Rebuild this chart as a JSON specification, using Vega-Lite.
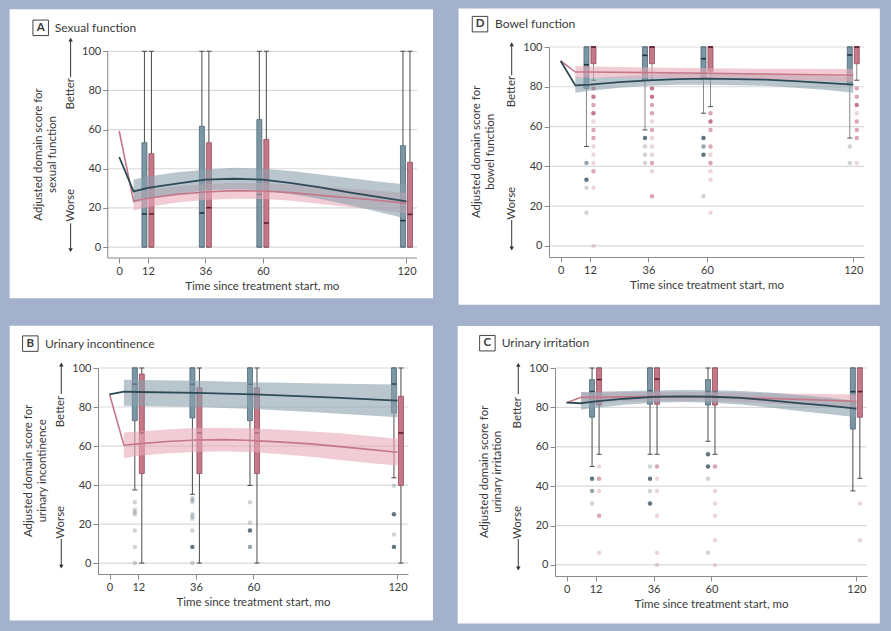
{
"$schema": "https://vega.github.io/schema/vega-lite/v6.json",
"background": "#a3b1cc",
"padding": {"left": 9, "top": 8, "right": 13, "bottom": 8},
"config": {
  "view": {"stroke": null},
  "font": "Lato",
  "axis": {"labelFont": "Lato", "titleFont": "Lato", "labelFontSize": 11, "titleFontSize": 11.5, "titleFontWeight": "normal", "labelColor": "#3a3a3a", "titleColor": "#3a3a3a", "domainColor": "#8a8a8a", "tickColor": "#8a8a8a", "tickSize": 5, "grid": false},
  "text": {"font": "Lato", "color": "#3a3a3a"}
},
"datasets": {
"box": [
{"p":"A","g":"b","t":12,"lo":0,"q1":0,"med":16.9,"q3":53.3,"hi":100},
{"p":"A","g":"p","t":12,"lo":0,"q1":0,"med":16.9,"q3":47.7,"hi":100},
{"p":"A","g":"b","t":36,"lo":0,"q1":0,"med":17.4,"q3":61.7,"hi":100},
{"p":"A","g":"p","t":36,"lo":0,"q1":0,"med":20.1,"q3":53.3,"hi":100},
{"p":"A","g":"b","t":60,"lo":0,"q1":0,"med":26.9,"q3":65.1,"hi":100},
{"p":"A","g":"p","t":60,"lo":0,"q1":0,"med":12.3,"q3":55,"hi":100},
{"p":"A","g":"b","t":120,"lo":0,"q1":0,"med":13.5,"q3":51.8,"hi":100},
{"p":"A","g":"p","t":120,"lo":0,"q1":0,"med":16.7,"q3":43.3,"hi":100},
{"p":"D","g":"b","t":12,"lo":50,"q1":79.1,"med":91.1,"q3":100,"hi":100},
{"p":"D","g":"p","t":12,"lo":83.3,"q1":91.6,"med":100,"q3":100,"hi":100},
{"p":"D","g":"b","t":36,"lo":58.3,"q1":83.3,"med":95.8,"q3":100,"hi":100},
{"p":"D","g":"p","t":36,"lo":83.3,"q1":91.6,"med":100,"q3":100,"hi":100},
{"p":"D","g":"b","t":60,"lo":66.7,"q1":84,"med":94.1,"q3":100,"hi":100},
{"p":"D","g":"p","t":60,"lo":70,"q1":87.8,"med":100,"q3":100,"hi":100},
{"p":"D","g":"b","t":120,"lo":54.2,"q1":81.1,"med":96,"q3":100,"hi":100},
{"p":"D","g":"p","t":120,"lo":83.3,"q1":91.6,"med":100,"q3":100,"hi":100},
{"p":"B","g":"b","t":12,"lo":37.5,"q1":73,"med":91.7,"q3":100,"hi":100},
{"p":"B","g":"p","t":12,"lo":0,"q1":45.9,"med":66.7,"q3":96.9,"hi":100},
{"p":"B","g":"b","t":36,"lo":35.3,"q1":74.4,"med":91.7,"q3":100,"hi":100},
{"p":"B","g":"p","t":36,"lo":0,"q1":45.9,"med":66.7,"q3":89.8,"hi":100},
{"p":"B","g":"b","t":60,"lo":39.8,"q1":73,"med":91.7,"q3":100,"hi":100},
{"p":"B","g":"p","t":60,"lo":0,"q1":45.9,"med":66.7,"q3":89.8,"hi":100},
{"p":"B","g":"b","t":120,"lo":43.7,"q1":77,"med":91.7,"q3":100,"hi":100},
{"p":"B","g":"p","t":120,"lo":0,"q1":39.8,"med":66.7,"q3":85.5,"hi":100},
{"p":"C","g":"b","t":12,"lo":50,"q1":75,"med":88,"q3":94.1,"hi":100},
{"p":"C","g":"p","t":12,"lo":56.2,"q1":81.2,"med":94.1,"q3":100,"hi":100},
{"p":"C","g":"b","t":36,"lo":56.2,"q1":81.6,"med":88.3,"q3":100,"hi":100},
{"p":"C","g":"p","t":36,"lo":56.2,"q1":81.6,"med":94.4,"q3":100,"hi":100},
{"p":"C","g":"b","t":60,"lo":62.8,"q1":81.2,"med":88,"q3":94.1,"hi":100},
{"p":"C","g":"p","t":60,"lo":56.2,"q1":81.2,"med":88,"q3":100,"hi":100},
{"p":"C","g":"b","t":120,"lo":37.6,"q1":69,"med":88,"q3":100,"hi":100},
{"p":"C","g":"p","t":120,"lo":44,"q1":75,"med":88,"q3":100,"hi":100}
],
"out": [
{"p":"D","g":"p","t":12,"y":79.2,"n":3},{"p":"D","g":"p","t":12,"y":75,"n":3},{"p":"D","g":"p","t":12,"y":70.8,"n":2},{"p":"D","g":"p","t":12,"y":66.7,"n":3},{"p":"D","g":"p","t":12,"y":62.5,"n":1},{"p":"D","g":"p","t":12,"y":58.3,"n":2},{"p":"D","g":"p","t":12,"y":54.2,"n":2},{"p":"D","g":"p","t":12,"y":50,"n":1},{"p":"D","g":"p","t":12,"y":45.8,"n":1},{"p":"D","g":"p","t":12,"y":41.7,"n":1},{"p":"D","g":"p","t":12,"y":37.5,"n":2},{"p":"D","g":"p","t":12,"y":29.2,"n":1},{"p":"D","g":"p","t":12,"y":0,"n":1},
{"p":"D","g":"b","t":12,"y":41.7,"n":2},{"p":"D","g":"b","t":12,"y":33.3,"n":3},{"p":"D","g":"b","t":12,"y":29.2,"n":1},{"p":"D","g":"b","t":12,"y":16.7,"n":1},
{"p":"D","g":"b","t":36,"y":54.2,"n":3},{"p":"D","g":"b","t":36,"y":50,"n":1},{"p":"D","g":"b","t":36,"y":45.8,"n":1},{"p":"D","g":"b","t":36,"y":41.7,"n":1},
{"p":"D","g":"p","t":36,"y":79.2,"n":3},{"p":"D","g":"p","t":36,"y":75,"n":3},{"p":"D","g":"p","t":36,"y":70.8,"n":2},{"p":"D","g":"p","t":36,"y":66.7,"n":2},{"p":"D","g":"p","t":36,"y":62.5,"n":1},{"p":"D","g":"p","t":36,"y":58.3,"n":2},{"p":"D","g":"p","t":36,"y":54.2,"n":1},{"p":"D","g":"p","t":36,"y":50,"n":1},{"p":"D","g":"p","t":36,"y":45.8,"n":1},{"p":"D","g":"p","t":36,"y":41.7,"n":2},{"p":"D","g":"p","t":36,"y":37.5,"n":1},{"p":"D","g":"p","t":36,"y":25,"n":2},
{"p":"D","g":"b","t":60,"y":54.2,"n":3},{"p":"D","g":"b","t":60,"y":50,"n":2},{"p":"D","g":"b","t":60,"y":45.8,"n":3},{"p":"D","g":"b","t":60,"y":25,"n":1},
{"p":"D","g":"p","t":60,"y":66.7,"n":2},{"p":"D","g":"p","t":60,"y":62.5,"n":3},{"p":"D","g":"p","t":60,"y":58.3,"n":2},{"p":"D","g":"p","t":60,"y":50,"n":2},{"p":"D","g":"p","t":60,"y":45.8,"n":1},{"p":"D","g":"p","t":60,"y":41.7,"n":2},{"p":"D","g":"p","t":60,"y":37.5,"n":1},{"p":"D","g":"p","t":60,"y":33.3,"n":1},{"p":"D","g":"p","t":60,"y":16.7,"n":1},
{"p":"D","g":"b","t":120,"y":50,"n":1},{"p":"D","g":"b","t":120,"y":41.7,"n":1},
{"p":"D","g":"p","t":120,"y":79.2,"n":2},{"p":"D","g":"p","t":120,"y":75,"n":2},{"p":"D","g":"p","t":120,"y":70.8,"n":3},{"p":"D","g":"p","t":120,"y":66.7,"n":1},{"p":"D","g":"p","t":120,"y":62.5,"n":2},{"p":"D","g":"p","t":120,"y":58.3,"n":2},{"p":"D","g":"p","t":120,"y":54.2,"n":2},{"p":"D","g":"p","t":120,"y":41.7,"n":1},
{"p":"B","g":"b","t":12,"y":31.2,"n":1},{"p":"B","g":"b","t":12,"y":27.3,"n":1},{"p":"B","g":"b","t":12,"y":26.1,"n":1},{"p":"B","g":"b","t":12,"y":25,"n":1},{"p":"B","g":"b","t":12,"y":16.7,"n":1},{"p":"B","g":"b","t":12,"y":8.3,"n":1},{"p":"B","g":"b","t":12,"y":0,"n":1},
{"p":"B","g":"b","t":36,"y":33.3,"n":1},{"p":"B","g":"b","t":36,"y":32.3,"n":1},{"p":"B","g":"b","t":36,"y":31.2,"n":1},{"p":"B","g":"b","t":36,"y":25,"n":1},{"p":"B","g":"b","t":36,"y":23.9,"n":1},{"p":"B","g":"b","t":36,"y":22.7,"n":1},{"p":"B","g":"b","t":36,"y":16.7,"n":1},{"p":"B","g":"b","t":36,"y":8.3,"n":3},{"p":"B","g":"b","t":36,"y":0,"n":1},
{"p":"B","g":"b","t":60,"y":31.2,"n":1},{"p":"B","g":"b","t":60,"y":20.8,"n":1},{"p":"B","g":"b","t":60,"y":16.7,"n":3},{"p":"B","g":"b","t":60,"y":8.3,"n":2},
{"p":"B","g":"b","t":120,"y":39.6,"n":1},{"p":"B","g":"b","t":120,"y":25,"n":3},{"p":"B","g":"b","t":120,"y":14.6,"n":1},{"p":"B","g":"b","t":120,"y":8.3,"n":3},
{"p":"C","g":"b","t":12,"y":43.8,"n":3},{"p":"C","g":"b","t":12,"y":37.5,"n":2},{"p":"C","g":"b","t":12,"y":31.2,"n":1},
{"p":"C","g":"p","t":12,"y":50,"n":1},{"p":"C","g":"p","t":12,"y":43.8,"n":2},{"p":"C","g":"p","t":12,"y":37.5,"n":1},{"p":"C","g":"p","t":12,"y":25,"n":2},{"p":"C","g":"p","t":12,"y":6.2,"n":1},
{"p":"C","g":"b","t":36,"y":50,"n":1},{"p":"C","g":"b","t":36,"y":43.8,"n":3},{"p":"C","g":"b","t":36,"y":37.5,"n":1},{"p":"C","g":"b","t":36,"y":31.2,"n":3},
{"p":"C","g":"p","t":36,"y":50,"n":2},{"p":"C","g":"p","t":36,"y":43.8,"n":1},{"p":"C","g":"p","t":36,"y":37.5,"n":1},{"p":"C","g":"p","t":36,"y":25,"n":1},{"p":"C","g":"p","t":36,"y":6.2,"n":1},{"p":"C","g":"p","t":36,"y":0,"n":1},
{"p":"C","g":"b","t":60,"y":56.2,"n":3},{"p":"C","g":"b","t":60,"y":50,"n":3},{"p":"C","g":"b","t":60,"y":43.8,"n":1},{"p":"C","g":"b","t":60,"y":6.2,"n":1},
{"p":"C","g":"p","t":60,"y":50,"n":2},{"p":"C","g":"p","t":60,"y":37.5,"n":1},{"p":"C","g":"p","t":60,"y":31.2,"n":1},{"p":"C","g":"p","t":60,"y":25,"n":1},{"p":"C","g":"p","t":60,"y":12.5,"n":1},{"p":"C","g":"p","t":60,"y":0,"n":1},
{"p":"C","g":"p","t":120,"y":31.2,"n":1},{"p":"C","g":"p","t":120,"y":12.5,"n":1}
],
"fit": [
{"p":"A","g":"b","t":0,"y":46},{"p":"A","g":"b","t":6,"y":28.4,"lo":22.5,"hi":34.5},{"p":"A","g":"b","t":12,"y":30.2,"lo":24.5,"hi":36},{"p":"A","g":"b","t":24,"y":32.4,"lo":27,"hi":38.2},{"p":"A","g":"b","t":36,"y":34.4,"lo":29,"hi":39.5},{"p":"A","g":"b","t":48,"y":34.9,"lo":29.5,"hi":40.5},{"p":"A","g":"b","t":60,"y":34.4,"lo":29,"hi":40},{"p":"A","g":"b","t":72,"y":32.7,"lo":27,"hi":38.8},{"p":"A","g":"b","t":84,"y":30.5,"lo":24.5,"hi":37},{"p":"A","g":"b","t":96,"y":27.9,"lo":21.5,"hi":35.3},{"p":"A","g":"b","t":108,"y":25.6,"lo":18,"hi":33.5},{"p":"A","g":"b","t":120,"y":23.3,"lo":14.5,"hi":32},
{"p":"A","g":"p","t":0,"y":59.3},{"p":"A","g":"p","t":6,"y":23.5,"lo":18.7,"hi":28.3},{"p":"A","g":"p","t":12,"y":24.9,"lo":20.5,"hi":29.3},{"p":"A","g":"p","t":24,"y":26.9,"lo":22.7,"hi":31.1},{"p":"A","g":"p","t":36,"y":28.1,"lo":24,"hi":32.2},{"p":"A","g":"p","t":48,"y":28.8,"lo":24.7,"hi":32.9},{"p":"A","g":"p","t":60,"y":28.6,"lo":24.5,"hi":32.7},{"p":"A","g":"p","t":72,"y":27.8,"lo":23.6,"hi":32},{"p":"A","g":"p","t":84,"y":26.4,"lo":22,"hi":30.8},{"p":"A","g":"p","t":96,"y":25.2,"lo":20.5,"hi":29.9},{"p":"A","g":"p","t":108,"y":23.9,"lo":19,"hi":28.8},{"p":"A","g":"p","t":120,"y":22.3,"lo":17,"hi":27.6},
{"p":"D","g":"b","t":0,"y":93},{"p":"D","g":"b","t":6,"y":80.7,"lo":77,"hi":85},{"p":"D","g":"b","t":12,"y":81.1,"lo":78,"hi":84.5},{"p":"D","g":"b","t":24,"y":82.3,"lo":79.5,"hi":85.2},{"p":"D","g":"b","t":36,"y":83.2,"lo":80.5,"hi":86},{"p":"D","g":"b","t":48,"y":83.8,"lo":81,"hi":86.6},{"p":"D","g":"b","t":60,"y":84.1,"lo":81,"hi":87},{"p":"D","g":"b","t":84,"y":83.6,"lo":80.5,"hi":86.5},{"p":"D","g":"b","t":96,"y":82.8,"lo":79.5,"hi":86},{"p":"D","g":"b","t":108,"y":82,"lo":78.5,"hi":85.5},{"p":"D","g":"b","t":120,"y":81.1,"lo":77,"hi":85},
{"p":"D","g":"p","t":0,"y":93},{"p":"D","g":"p","t":6,"y":87.4,"lo":84.5,"hi":90.5},{"p":"D","g":"p","t":12,"y":87.4,"lo":84.7,"hi":90.2},{"p":"D","g":"p","t":36,"y":87.1,"lo":84.6,"hi":89.7},{"p":"D","g":"p","t":60,"y":86.8,"lo":84.4,"hi":89.3},{"p":"D","g":"p","t":84,"y":86.4,"lo":83.8,"hi":89.1},{"p":"D","g":"p","t":120,"y":85.8,"lo":82.5,"hi":89},
{"p":"B","g":"b","t":0,"y":86.5},{"p":"B","g":"b","t":6,"y":87.9,"lo":80.7,"hi":94},{"p":"B","g":"b","t":12,"y":87.7,"lo":80.5,"hi":93.9},{"p":"B","g":"b","t":36,"y":87.2,"lo":80,"hi":93.5},{"p":"B","g":"b","t":60,"y":86.5,"lo":79,"hi":92.7},{"p":"B","g":"b","t":84,"y":85.3,"lo":77.5,"hi":92.2},{"p":"B","g":"b","t":96,"y":84.7,"lo":76.5,"hi":91.9},{"p":"B","g":"b","t":120,"y":83.3,"lo":74.7,"hi":91.5},
{"p":"B","g":"p","t":0,"y":86.5},{"p":"B","g":"p","t":6,"y":60.4,"lo":53.8,"hi":67},{"p":"B","g":"p","t":12,"y":61.1,"lo":55,"hi":67.5},{"p":"B","g":"p","t":24,"y":62.3,"lo":56.3,"hi":68.5},{"p":"B","g":"p","t":36,"y":63.1,"lo":57,"hi":69.3},{"p":"B","g":"p","t":48,"y":63.3,"lo":57.3,"hi":69.3},{"p":"B","g":"p","t":60,"y":62.8,"lo":56.8,"hi":69},{"p":"B","g":"p","t":72,"y":62,"lo":55.8,"hi":68.4},{"p":"B","g":"p","t":84,"y":61.1,"lo":54.5,"hi":67.5},{"p":"B","g":"p","t":96,"y":59.7,"lo":52.8,"hi":66.5},{"p":"B","g":"p","t":108,"y":58.3,"lo":51.3,"hi":65.2},{"p":"B","g":"p","t":120,"y":56.8,"lo":50,"hi":63.7},
{"p":"C","g":"b","t":0,"y":82.4},{"p":"C","g":"b","t":6,"y":82.1,"lo":78.8,"hi":87.8},{"p":"C","g":"b","t":12,"y":83.1,"lo":79.8,"hi":87.9},{"p":"C","g":"b","t":24,"y":84.4,"lo":81.3,"hi":88.3},{"p":"C","g":"b","t":36,"y":85.3,"lo":82.4,"hi":88.6},{"p":"C","g":"b","t":48,"y":85.6,"lo":82.7,"hi":88.8},{"p":"C","g":"b","t":60,"y":85.4,"lo":82.3,"hi":88.7},{"p":"C","g":"b","t":72,"y":84.8,"lo":81.5,"hi":88.3},{"p":"C","g":"b","t":84,"y":83.6,"lo":80,"hi":87.5},{"p":"C","g":"b","t":96,"y":82.2,"lo":78.2,"hi":86.3},{"p":"C","g":"b","t":108,"y":80.9,"lo":76.6,"hi":85},{"p":"C","g":"b","t":120,"y":79.4,"lo":75,"hi":83.3},
{"p":"C","g":"p","t":0,"y":82.4},{"p":"C","g":"p","t":6,"y":85.1,"lo":82.5,"hi":87.7},{"p":"C","g":"p","t":12,"y":85.1,"lo":82.7,"hi":87.6},{"p":"C","g":"p","t":36,"y":85.6,"lo":83.3,"hi":87.9},{"p":"C","g":"p","t":60,"y":85.4,"lo":83.1,"hi":87.8},{"p":"C","g":"p","t":84,"y":84.6,"lo":82,"hi":87.2},{"p":"C","g":"p","t":120,"y":83.1,"lo":79.8,"hi":86.5}
]
},
"spacing": 20,
"vconcat": [
{"spacing": 24, "hconcat": [
{"width": 319, "height": 211, "data": {"values": [{}]}, "layer": [
 {"mark": {"type": "rect", "color": "white"}, "encoding": {
   "x": {"datum": -45.8, "type": "quantitative", "scale": {"domain": [-8.86, 124.4], "nice": false, "zero": false, "padding": 0}, "axis": {"values": [0, 12, 36, 60, 120], "title": null, "domain": false, "labelPadding": 2, "zindex": 1}},
   "x2": {"datum": 131.1},
   "y": {"datum": -26.2, "type": "quantitative", "scale": {"domain": [-5.6, 102.2], "nice": false, "zero": false, "padding": 0}, "axis": {"values": [0, 20, 40, 60, 80, 100], "title": null, "domain": false, "labelPadding": 2, "offset": -9.7, "zindex": 1}},
   "y2": {"datum": 121.5}}},
 {"mark": {"type": "rule", "color": "#d9d9d9", "strokeWidth": 1.2}, "encoding": {"x": {"datum": -4.8}, "x2": {"datum": 124.4}, "y": {"datum": 0}}},
 {"mark": {"type": "rule", "color": "#d9d9d9", "strokeWidth": 1.2}, "encoding": {"x": {"datum": -4.8}, "x2": {"datum": 124.4}, "y": {"datum": 20}}},
 {"mark": {"type": "rule", "color": "#d9d9d9", "strokeWidth": 1.2}, "encoding": {"x": {"datum": -4.8}, "x2": {"datum": 124.4}, "y": {"datum": 40}}},
 {"mark": {"type": "rule", "color": "#d9d9d9", "strokeWidth": 1.2}, "encoding": {"x": {"datum": -4.8}, "x2": {"datum": 124.4}, "y": {"datum": 60}}},
 {"mark": {"type": "rule", "color": "#d9d9d9", "strokeWidth": 1.2}, "encoding": {"x": {"datum": -4.8}, "x2": {"datum": 124.4}, "y": {"datum": 80}}},
 {"mark": {"type": "rule", "color": "#d9d9d9", "strokeWidth": 1.2}, "encoding": {"x": {"datum": -4.8}, "x2": {"datum": 124.4}, "y": {"datum": 100}}},
 {"mark": {"type": "rule", "color": "#8a8a8a", "strokeWidth": 1}, "encoding": {"x": {"datum": -4.8}, "x2": {"datum": 124.4}, "y": {"datum": -5.6}}},
 {"mark": {"type": "rule", "color": "#8a8a8a", "strokeWidth": 1}, "encoding": {"x": {"datum": -4.8}, "y": {"datum": -5.6}, "y2": {"datum": 100}}},
 {"mark": {"type": "text", "text": "Time since treatment start, mo", "fontSize": 11.5, "align": "center", "baseline": "middle"}, "encoding": {"x": {"datum": 59.8}, "y": {"datum": -20.4}}},
 {"data": {"name": "box"}, "transform": [{"filter": "datum.p=='A'"}], "mark": {"type": "rule", "color": "#4a4a4a", "strokeWidth": 1, "xOffset": {"expr": "datum.g=='b'?-3.5:3.5"}}, "encoding": {"x": {"field": "t", "type": "quantitative"}, "y": {"field": "q3", "type": "quantitative"}, "y2": {"field": "hi"}}},
 {"data": {"name": "box"}, "transform": [{"filter": "datum.p=='A'"}], "mark": {"type": "rule", "color": "#4a4a4a", "strokeWidth": 1, "xOffset": {"expr": "datum.g=='b'?-3.5:3.5"}}, "encoding": {"x": {"field": "t", "type": "quantitative"}, "y": {"field": "lo", "type": "quantitative"}, "y2": {"field": "q1"}}},
 {"data": {"name": "box"}, "transform": [{"filter": "datum.p=='A'"}], "mark": {"type": "tick", "orient": "horizontal", "size": 5, "thickness": 1, "color": "#4a4a4a", "opacity": 1, "xOffset": {"expr": "datum.g=='b'?-3.5:3.5"}}, "encoding": {"x": {"field": "t", "type": "quantitative"}, "y": {"field": "hi", "type": "quantitative"}}},
 {"data": {"name": "box"}, "transform": [{"filter": "datum.p=='A'"}], "mark": {"type": "tick", "orient": "horizontal", "size": 5, "thickness": 1, "color": "#4a4a4a", "opacity": 1, "xOffset": {"expr": "datum.g=='b'?-3.5:3.5"}}, "encoding": {"x": {"field": "t", "type": "quantitative"}, "y": {"field": "lo", "type": "quantitative"}}},
 {"data": {"name": "box"}, "transform": [{"filter": "datum.p=='A'"}], "mark": {"type": "bar", "size": 5, "strokeWidth": 0.8, "xOffset": {"expr": "datum.g=='b'?-3.5:3.5"}}, "encoding": {"x": {"field": "t", "type": "quantitative"}, "y": {"field": "q1", "type": "quantitative"}, "y2": {"field": "q3"}, "fill": {"condition": {"test": "datum.g=='b'", "value": "#7b97a5"}, "value": "#c47888"}, "stroke": {"condition": {"test": "datum.g=='b'", "value": "#4d6875"}, "value": "#94495b"}}},
 {"data": {"name": "box"}, "transform": [{"filter": "datum.p=='A'"}], "mark": {"type": "tick", "orient": "horizontal", "size": 5, "thickness": 1.6, "opacity": 1, "xOffset": {"expr": "datum.g=='b'?-3.5:3.5"}}, "encoding": {"x": {"field": "t", "type": "quantitative"}, "y": {"field": "med", "type": "quantitative"}, "color": {"condition": {"test": "datum.g=='b'", "value": "#22343c"}, "value": "#5b1f2e"}}},
 {"data": {"name": "fit"}, "transform": [{"filter": "datum.p=='A' && datum.g=='p' && isValid(datum.lo)"}], "mark": {"type": "area", "color": "#e8aab8", "opacity": 0.6}, "encoding": {"x": {"field": "t", "type": "quantitative"}, "y": {"field": "lo", "type": "quantitative"}, "y2": {"field": "hi"}}},
 {"data": {"name": "fit"}, "transform": [{"filter": "datum.p=='A' && datum.g=='b' && isValid(datum.lo)"}], "mark": {"type": "area", "color": "#8aa0ae", "opacity": 0.6}, "encoding": {"x": {"field": "t", "type": "quantitative"}, "y": {"field": "lo", "type": "quantitative"}, "y2": {"field": "hi"}}},
 {"data": {"name": "fit"}, "transform": [{"filter": "datum.p=='A' && datum.g=='p'"}], "mark": {"type": "line", "color": "#c4788a", "strokeWidth": 1.6}, "encoding": {"x": {"field": "t", "type": "quantitative"}, "y": {"field": "y", "type": "quantitative"}}},
 {"data": {"name": "fit"}, "transform": [{"filter": "datum.p=='A' && datum.g=='b'"}], "mark": {"type": "line", "color": "#2e4a56", "strokeWidth": 1.8}, "encoding": {"x": {"field": "t", "type": "quantitative"}, "y": {"field": "y", "type": "quantitative"}}},
 {"mark": {"type": "point", "shape": "square", "size": 240, "filled": false, "stroke": "#444", "strokeWidth": 1, "opacity": 1}, "encoding": {"x": {"datum": -32.8}, "y": {"datum": 112}}},
 {"mark": {"type": "text", "text": "A", "fontWeight": "bold", "fontSize": 11.5, "align": "center", "baseline": "middle"}, "encoding": {"x": {"datum": -32.8}, "y": {"datum": 112}}},
 {"mark": {"type": "text", "text": "Sexual function", "fontSize": 12, "align": "left", "baseline": "middle"}, "encoding": {"x": {"datum": -26.9}, "y": {"datum": 112}}},
 {"mark": {"type": "text", "text": "Adjusted domain score for", "angle": 270, "fontSize": 11.5, "align": "center", "baseline": "middle"}, "encoding": {"x": {"datum": -33.6}, "y": {"datum": 47.3}}},
 {"mark": {"type": "text", "text": "sexual function", "angle": 270, "fontSize": 11.5, "align": "center", "baseline": "middle"}, "encoding": {"x": {"datum": -27.8}, "y": {"datum": 47.3}}},
 {"mark": {"type": "text", "text": "Better", "angle": 270, "fontSize": 11.5, "align": "center", "baseline": "middle"}, "encoding": {"x": {"datum": -20.3}, "y": {"datum": 78.3}}},
 {"mark": {"type": "text", "text": "Worse", "angle": 270, "fontSize": 11.5, "align": "center", "baseline": "middle"}, "encoding": {"x": {"datum": -20.3}, "y": {"datum": 21.3}}},
 {"mark": {"type": "rule", "color": "#333", "strokeWidth": 1}, "encoding": {"x": {"datum": -20.3}, "y": {"datum": 86.7}, "y2": {"datum": 106}}},
 {"mark": {"type": "rule", "color": "#333", "strokeWidth": 1}, "encoding": {"x": {"datum": -20.3}, "y": {"datum": 12.1}, "y2": {"datum": -1.6}}},
 {"mark": {"type": "point", "shape": "triangle-up", "size": 20, "filled": true, "color": "#333", "opacity": 1}, "encoding": {"x": {"datum": -20.3}, "y": {"datum": 106}}},
 {"mark": {"type": "point", "shape": "triangle-down", "size": 20, "filled": true, "color": "#333", "opacity": 1}, "encoding": {"x": {"datum": -20.3}, "y": {"datum": -1.6}}}
]},
{"width": 315, "height": 210, "data": {"values": [{}]}, "layer": [
 {"mark": {"type": "rect", "color": "white"}, "encoding": {
   "x": {"datum": -41.9, "type": "quantitative", "scale": {"domain": [-4.8, 124.4], "nice": false, "zero": false, "padding": 0}, "axis": {"values": [0, 12, 36, 60, 120], "title": "Time since treatment start, mo", "labelPadding": 2, "titlePadding": 4, "zindex": 1}},
   "x2": {"datum": 130.9},
   "y": {"datum": -29.6, "type": "quantitative", "scale": {"domain": [-5.6, 100], "nice": false, "zero": false, "padding": 0}, "axis": {"values": [0, 20, 40, 60, 80, 100], "title": null, "labelPadding": 2, "zindex": 1}},
   "y2": {"datum": 119.4}}},
 {"mark": {"type": "rule", "color": "#d9d9d9", "strokeWidth": 1.2}, "encoding": {"y": {"datum": 0}}},
 {"mark": {"type": "rule", "color": "#d9d9d9", "strokeWidth": 1.2}, "encoding": {"y": {"datum": 20}}},
 {"mark": {"type": "rule", "color": "#d9d9d9", "strokeWidth": 1.2}, "encoding": {"y": {"datum": 40}}},
 {"mark": {"type": "rule", "color": "#d9d9d9", "strokeWidth": 1.2}, "encoding": {"y": {"datum": 60}}},
 {"mark": {"type": "rule", "color": "#d9d9d9", "strokeWidth": 1.2}, "encoding": {"y": {"datum": 80}}},
 {"mark": {"type": "rule", "color": "#d9d9d9", "strokeWidth": 1.2}, "encoding": {"y": {"datum": 100}}},
 {"data": {"name": "box"}, "transform": [{"filter": "datum.p=='D'"}], "mark": {"type": "rule", "color": "#6a6a6a", "strokeWidth": 0.8, "xOffset": {"expr": "datum.g=='b'?-3.5:3.5"}}, "encoding": {"x": {"field": "t", "type": "quantitative"}, "y": {"field": "q3", "type": "quantitative"}, "y2": {"field": "hi"}}},
 {"data": {"name": "box"}, "transform": [{"filter": "datum.p=='D'"}], "mark": {"type": "rule", "color": "#6a6a6a", "strokeWidth": 0.8, "xOffset": {"expr": "datum.g=='b'?-3.5:3.5"}}, "encoding": {"x": {"field": "t", "type": "quantitative"}, "y": {"field": "lo", "type": "quantitative"}, "y2": {"field": "q1"}}},
 {"data": {"name": "box"}, "transform": [{"filter": "datum.p=='D'"}], "mark": {"type": "tick", "orient": "horizontal", "size": 5, "thickness": 1, "color": "#4a4a4a", "opacity": 1, "xOffset": {"expr": "datum.g=='b'?-3.5:3.5"}}, "encoding": {"x": {"field": "t", "type": "quantitative"}, "y": {"field": "hi", "type": "quantitative"}}},
 {"data": {"name": "box"}, "transform": [{"filter": "datum.p=='D'"}], "mark": {"type": "tick", "orient": "horizontal", "size": 5, "thickness": 1, "color": "#4a4a4a", "opacity": 1, "xOffset": {"expr": "datum.g=='b'?-3.5:3.5"}}, "encoding": {"x": {"field": "t", "type": "quantitative"}, "y": {"field": "lo", "type": "quantitative"}}},
 {"data": {"name": "box"}, "transform": [{"filter": "datum.p=='D'"}], "mark": {"type": "bar", "size": 5, "strokeWidth": 0.8, "xOffset": {"expr": "datum.g=='b'?-3.5:3.5"}}, "encoding": {"x": {"field": "t", "type": "quantitative"}, "y": {"field": "q1", "type": "quantitative"}, "y2": {"field": "q3"}, "fill": {"condition": {"test": "datum.g=='b'", "value": "#7b97a5"}, "value": "#c47888"}, "stroke": {"condition": {"test": "datum.g=='b'", "value": "#4d6875"}, "value": "#94495b"}}},
 {"data": {"name": "box"}, "transform": [{"filter": "datum.p=='D'"}], "mark": {"type": "tick", "orient": "horizontal", "size": 5, "thickness": 1.6, "opacity": 1, "xOffset": {"expr": "datum.g=='b'?-3.5:3.5"}}, "encoding": {"x": {"field": "t", "type": "quantitative"}, "y": {"field": "med", "type": "quantitative"}, "color": {"condition": {"test": "datum.g=='b'", "value": "#22343c"}, "value": "#5b1f2e"}}},
 {"data": {"name": "out"}, "transform": [{"filter": "datum.p=='D'"}], "mark": {"type": "circle", "size": 20, "xOffset": {"expr": "datum.g=='b'?-3.5:3.5"}}, "encoding": {"x": {"field": "t", "type": "quantitative"}, "y": {"field": "y", "type": "quantitative"}, "color": {"condition": {"test": "datum.g=='b'", "value": "#4f6673"}, "value": "#c06a7e"}, "opacity": {"field": "n", "type": "quantitative", "scale": {"domain": [1, 3], "range": [0.28, 0.9]}, "legend": null}}},
 {"data": {"name": "fit"}, "transform": [{"filter": "datum.p=='D' && datum.g=='b' && isValid(datum.lo)"}], "mark": {"type": "area", "color": "#8aa0ae", "opacity": 0.6}, "encoding": {"x": {"field": "t", "type": "quantitative"}, "y": {"field": "lo", "type": "quantitative"}, "y2": {"field": "hi"}}},
 {"data": {"name": "fit"}, "transform": [{"filter": "datum.p=='D' && datum.g=='p' && isValid(datum.lo)"}], "mark": {"type": "area", "color": "#e8aab8", "opacity": 0.6}, "encoding": {"x": {"field": "t", "type": "quantitative"}, "y": {"field": "lo", "type": "quantitative"}, "y2": {"field": "hi"}}},
 {"data": {"name": "fit"}, "transform": [{"filter": "datum.p=='D' && datum.g=='p'"}], "mark": {"type": "line", "color": "#c4788a", "strokeWidth": 1.6}, "encoding": {"x": {"field": "t", "type": "quantitative"}, "y": {"field": "y", "type": "quantitative"}}},
 {"data": {"name": "fit"}, "transform": [{"filter": "datum.p=='D' && datum.g=='b'"}], "mark": {"type": "line", "color": "#2e4a56", "strokeWidth": 1.8}, "encoding": {"x": {"field": "t", "type": "quantitative"}, "y": {"field": "y", "type": "quantitative"}}},
 {"mark": {"type": "point", "shape": "square", "size": 240, "filled": false, "stroke": "#444", "strokeWidth": 1, "opacity": 1}, "encoding": {"x": {"datum": -33.1}, "y": {"datum": 111.5}}},
 {"mark": {"type": "text", "text": "D", "fontWeight": "bold", "fontSize": 11.5, "align": "center", "baseline": "middle"}, "encoding": {"x": {"datum": -33.1}, "y": {"datum": 111.5}}},
 {"mark": {"type": "text", "text": "Bowel function", "fontSize": 12, "align": "left", "baseline": "middle"}, "encoding": {"x": {"datum": -26.9}, "y": {"datum": 111.5}}},
 {"mark": {"type": "text", "text": "Adjusted domain score for", "angle": 270, "fontSize": 11.5, "align": "center", "baseline": "middle"}, "encoding": {"x": {"datum": -34.2}, "y": {"datum": 47.3}}},
 {"mark": {"type": "text", "text": "bowel function", "angle": 270, "fontSize": 11.5, "align": "center", "baseline": "middle"}, "encoding": {"x": {"datum": -28.7}, "y": {"datum": 47.3}}},
 {"mark": {"type": "text", "text": "Better", "angle": 270, "fontSize": 11.5, "align": "center", "baseline": "middle"}, "encoding": {"x": {"datum": -20.1}, "y": {"datum": 77.6}}},
 {"mark": {"type": "text", "text": "Worse", "angle": 270, "fontSize": 11.5, "align": "center", "baseline": "middle"}, "encoding": {"x": {"datum": -20.1}, "y": {"datum": 21.4}}},
 {"mark": {"type": "rule", "color": "#333", "strokeWidth": 1}, "encoding": {"x": {"datum": -20.1}, "y": {"datum": 85.8}, "y2": {"datum": 101.4}}},
 {"mark": {"type": "rule", "color": "#333", "strokeWidth": 1}, "encoding": {"x": {"datum": -20.1}, "y": {"datum": 13}, "y2": {"datum": -1.3}}},
 {"mark": {"type": "point", "shape": "triangle-up", "size": 20, "filled": true, "color": "#333", "opacity": 1}, "encoding": {"x": {"datum": -20.1}, "y": {"datum": 101.4}}},
 {"mark": {"type": "point", "shape": "triangle-down", "size": 20, "filled": true, "color": "#333", "opacity": 1}, "encoding": {"x": {"datum": -20.1}, "y": {"datum": -1.3}}}
]}
]},
{"spacing": 24, "hconcat": [
{"width": 310, "height": 206, "data": {"values": [{}]}, "layer": [
 {"mark": {"type": "rect", "color": "white"}, "encoding": {
   "x": {"datum": -41.6, "type": "quantitative", "scale": {"domain": [-4.8, 124.4], "nice": false, "zero": false, "padding": 0}, "axis": {"values": [0, 12, 36, 60, 120], "title": "Time since treatment start, mo", "labelPadding": 2, "titlePadding": 4, "zindex": 1}},
   "x2": {"datum": 134.8},
   "y": {"datum": -29.4, "type": "quantitative", "scale": {"domain": [-5.6, 100], "nice": false, "zero": false, "padding": 0}, "axis": {"values": [0, 20, 40, 60, 80, 100], "title": null, "labelPadding": 2, "zindex": 1}},
   "y2": {"datum": 121.7}}},
 {"mark": {"type": "rule", "color": "#d9d9d9", "strokeWidth": 1.2}, "encoding": {"y": {"datum": 0}}},
 {"mark": {"type": "rule", "color": "#d9d9d9", "strokeWidth": 1.2}, "encoding": {"y": {"datum": 20}}},
 {"mark": {"type": "rule", "color": "#d9d9d9", "strokeWidth": 1.2}, "encoding": {"y": {"datum": 40}}},
 {"mark": {"type": "rule", "color": "#d9d9d9", "strokeWidth": 1.2}, "encoding": {"y": {"datum": 60}}},
 {"mark": {"type": "rule", "color": "#d9d9d9", "strokeWidth": 1.2}, "encoding": {"y": {"datum": 80}}},
 {"mark": {"type": "rule", "color": "#d9d9d9", "strokeWidth": 1.2}, "encoding": {"y": {"datum": 100}}},
 {"data": {"name": "box"}, "transform": [{"filter": "datum.p=='B'"}], "mark": {"type": "rule", "color": "#4a4a4a", "strokeWidth": 1, "xOffset": {"expr": "datum.g=='b'?-3.5:3.5"}}, "encoding": {"x": {"field": "t", "type": "quantitative"}, "y": {"field": "q3", "type": "quantitative"}, "y2": {"field": "hi"}}},
 {"data": {"name": "box"}, "transform": [{"filter": "datum.p=='B'"}], "mark": {"type": "rule", "color": "#4a4a4a", "strokeWidth": 1, "xOffset": {"expr": "datum.g=='b'?-3.5:3.5"}}, "encoding": {"x": {"field": "t", "type": "quantitative"}, "y": {"field": "lo", "type": "quantitative"}, "y2": {"field": "q1"}}},
 {"data": {"name": "box"}, "transform": [{"filter": "datum.p=='B'"}], "mark": {"type": "tick", "orient": "horizontal", "size": 5, "thickness": 1, "color": "#4a4a4a", "opacity": 1, "xOffset": {"expr": "datum.g=='b'?-3.5:3.5"}}, "encoding": {"x": {"field": "t", "type": "quantitative"}, "y": {"field": "hi", "type": "quantitative"}}},
 {"data": {"name": "box"}, "transform": [{"filter": "datum.p=='B'"}], "mark": {"type": "tick", "orient": "horizontal", "size": 5, "thickness": 1, "color": "#4a4a4a", "opacity": 1, "xOffset": {"expr": "datum.g=='b'?-3.5:3.5"}}, "encoding": {"x": {"field": "t", "type": "quantitative"}, "y": {"field": "lo", "type": "quantitative"}}},
 {"data": {"name": "box"}, "transform": [{"filter": "datum.p=='B'"}], "mark": {"type": "bar", "size": 5, "strokeWidth": 0.8, "xOffset": {"expr": "datum.g=='b'?-3.5:3.5"}}, "encoding": {"x": {"field": "t", "type": "quantitative"}, "y": {"field": "q1", "type": "quantitative"}, "y2": {"field": "q3"}, "fill": {"condition": {"test": "datum.g=='b'", "value": "#7b97a5"}, "value": "#c47888"}, "stroke": {"condition": {"test": "datum.g=='b'", "value": "#4d6875"}, "value": "#94495b"}}},
 {"data": {"name": "box"}, "transform": [{"filter": "datum.p=='B'"}], "mark": {"type": "tick", "orient": "horizontal", "size": 5, "thickness": 1.6, "opacity": 1, "xOffset": {"expr": "datum.g=='b'?-3.5:3.5"}}, "encoding": {"x": {"field": "t", "type": "quantitative"}, "y": {"field": "med", "type": "quantitative"}, "color": {"condition": {"test": "datum.g=='b'", "value": "#22343c"}, "value": "#5b1f2e"}}},
 {"data": {"name": "out"}, "transform": [{"filter": "datum.p=='B'"}], "mark": {"type": "circle", "size": 20, "xOffset": {"expr": "datum.g=='b'?-3.5:3.5"}}, "encoding": {"x": {"field": "t", "type": "quantitative"}, "y": {"field": "y", "type": "quantitative"}, "color": {"condition": {"test": "datum.g=='b'", "value": "#4f6673"}, "value": "#c06a7e"}, "opacity": {"field": "n", "type": "quantitative", "scale": {"domain": [1, 3], "range": [0.28, 0.9]}, "legend": null}}},
 {"data": {"name": "fit"}, "transform": [{"filter": "datum.p=='B' && datum.g=='p' && isValid(datum.lo)"}], "mark": {"type": "area", "color": "#e8aab8", "opacity": 0.6}, "encoding": {"x": {"field": "t", "type": "quantitative"}, "y": {"field": "lo", "type": "quantitative"}, "y2": {"field": "hi"}}},
 {"data": {"name": "fit"}, "transform": [{"filter": "datum.p=='B' && datum.g=='b' && isValid(datum.lo)"}], "mark": {"type": "area", "color": "#8aa0ae", "opacity": 0.6}, "encoding": {"x": {"field": "t", "type": "quantitative"}, "y": {"field": "lo", "type": "quantitative"}, "y2": {"field": "hi"}}},
 {"data": {"name": "fit"}, "transform": [{"filter": "datum.p=='B' && datum.g=='p'"}], "mark": {"type": "line", "color": "#c4788a", "strokeWidth": 1.6}, "encoding": {"x": {"field": "t", "type": "quantitative"}, "y": {"field": "y", "type": "quantitative"}}},
 {"data": {"name": "fit"}, "transform": [{"filter": "datum.p=='B' && datum.g=='b'"}], "mark": {"type": "line", "color": "#2e4a56", "strokeWidth": 1.8}, "encoding": {"x": {"field": "t", "type": "quantitative"}, "y": {"field": "y", "type": "quantitative"}}},
 {"mark": {"type": "point", "shape": "square", "size": 240, "filled": false, "stroke": "#444", "strokeWidth": 1, "opacity": 1}, "encoding": {"x": {"datum": -33.0}, "y": {"datum": 112.5}}},
 {"mark": {"type": "text", "text": "B", "fontWeight": "bold", "fontSize": 11.5, "align": "center", "baseline": "middle"}, "encoding": {"x": {"datum": -33.0}, "y": {"datum": 112.5}}},
 {"mark": {"type": "text", "text": "Urinary incontinence", "fontSize": 12, "align": "left", "baseline": "middle"}, "encoding": {"x": {"datum": -26.9}, "y": {"datum": 112.5}}},
 {"mark": {"type": "text", "text": "Adjusted domain score for", "angle": 270, "fontSize": 11.5, "align": "center", "baseline": "middle"}, "encoding": {"x": {"datum": -33.7}, "y": {"datum": 47.3}}},
 {"mark": {"type": "text", "text": "urinary incontinence", "angle": 270, "fontSize": 11.5, "align": "center", "baseline": "middle"}, "encoding": {"x": {"datum": -27.9}, "y": {"datum": 47.3}}},
 {"mark": {"type": "text", "text": "Better", "angle": 270, "fontSize": 11.5, "align": "center", "baseline": "middle"}, "encoding": {"x": {"datum": -20.1}, "y": {"datum": 77.7}}},
 {"mark": {"type": "text", "text": "Worse", "angle": 270, "fontSize": 11.5, "align": "center", "baseline": "middle"}, "encoding": {"x": {"datum": -20.1}, "y": {"datum": 20.9}}},
 {"mark": {"type": "rule", "color": "#333", "strokeWidth": 1}, "encoding": {"x": {"datum": -20.1}, "y": {"datum": 86.7}, "y2": {"datum": 101.8}}},
 {"mark": {"type": "rule", "color": "#333", "strokeWidth": 1}, "encoding": {"x": {"datum": -20.1}, "y": {"datum": 12.4}, "y2": {"datum": -1.8}}},
 {"mark": {"type": "point", "shape": "triangle-up", "size": 20, "filled": true, "color": "#333", "opacity": 1}, "encoding": {"x": {"datum": -20.1}, "y": {"datum": 101.8}}},
 {"mark": {"type": "point", "shape": "triangle-down", "size": 20, "filled": true, "color": "#333", "opacity": 1}, "encoding": {"x": {"datum": -20.1}, "y": {"datum": -1.8}}}
]},
{"width": 312, "height": 208, "data": {"values": [{}]}, "layer": [
 {"mark": {"type": "rect", "color": "white"}, "encoding": {
   "x": {"datum": -45.1, "type": "quantitative", "scale": {"domain": [-4.8, 124.4], "nice": false, "zero": false, "padding": 0}, "axis": {"values": [0, 12, 36, 60, 120], "title": "Time since treatment start, mo", "labelPadding": 2, "titlePadding": 4, "zindex": 1}},
   "x2": {"datum": 129.7},
   "y": {"datum": -29.7, "type": "quantitative", "scale": {"domain": [-5.6, 100], "nice": false, "zero": false, "padding": 0}, "axis": {"values": [0, 20, 40, 60, 80, 100], "title": null, "labelPadding": 2, "zindex": 1}},
   "y2": {"datum": 121.3}}},
 {"mark": {"type": "rule", "color": "#d9d9d9", "strokeWidth": 1.2}, "encoding": {"y": {"datum": 0}}},
 {"mark": {"type": "rule", "color": "#d9d9d9", "strokeWidth": 1.2}, "encoding": {"y": {"datum": 20}}},
 {"mark": {"type": "rule", "color": "#d9d9d9", "strokeWidth": 1.2}, "encoding": {"y": {"datum": 40}}},
 {"mark": {"type": "rule", "color": "#d9d9d9", "strokeWidth": 1.2}, "encoding": {"y": {"datum": 60}}},
 {"mark": {"type": "rule", "color": "#d9d9d9", "strokeWidth": 1.2}, "encoding": {"y": {"datum": 80}}},
 {"mark": {"type": "rule", "color": "#d9d9d9", "strokeWidth": 1.2}, "encoding": {"y": {"datum": 100}}},
 {"data": {"name": "box"}, "transform": [{"filter": "datum.p=='C'"}], "mark": {"type": "rule", "color": "#4a4a4a", "strokeWidth": 1, "xOffset": {"expr": "datum.g=='b'?-3.5:3.5"}}, "encoding": {"x": {"field": "t", "type": "quantitative"}, "y": {"field": "q3", "type": "quantitative"}, "y2": {"field": "hi"}}},
 {"data": {"name": "box"}, "transform": [{"filter": "datum.p=='C'"}], "mark": {"type": "rule", "color": "#4a4a4a", "strokeWidth": 1, "xOffset": {"expr": "datum.g=='b'?-3.5:3.5"}}, "encoding": {"x": {"field": "t", "type": "quantitative"}, "y": {"field": "lo", "type": "quantitative"}, "y2": {"field": "q1"}}},
 {"data": {"name": "box"}, "transform": [{"filter": "datum.p=='C'"}], "mark": {"type": "tick", "orient": "horizontal", "size": 5, "thickness": 1, "color": "#4a4a4a", "opacity": 1, "xOffset": {"expr": "datum.g=='b'?-3.5:3.5"}}, "encoding": {"x": {"field": "t", "type": "quantitative"}, "y": {"field": "hi", "type": "quantitative"}}},
 {"data": {"name": "box"}, "transform": [{"filter": "datum.p=='C'"}], "mark": {"type": "tick", "orient": "horizontal", "size": 5, "thickness": 1, "color": "#4a4a4a", "opacity": 1, "xOffset": {"expr": "datum.g=='b'?-3.5:3.5"}}, "encoding": {"x": {"field": "t", "type": "quantitative"}, "y": {"field": "lo", "type": "quantitative"}}},
 {"data": {"name": "box"}, "transform": [{"filter": "datum.p=='C'"}], "mark": {"type": "bar", "size": 5, "strokeWidth": 0.8, "xOffset": {"expr": "datum.g=='b'?-3.5:3.5"}}, "encoding": {"x": {"field": "t", "type": "quantitative"}, "y": {"field": "q1", "type": "quantitative"}, "y2": {"field": "q3"}, "fill": {"condition": {"test": "datum.g=='b'", "value": "#7b97a5"}, "value": "#c47888"}, "stroke": {"condition": {"test": "datum.g=='b'", "value": "#4d6875"}, "value": "#94495b"}}},
 {"data": {"name": "box"}, "transform": [{"filter": "datum.p=='C'"}], "mark": {"type": "tick", "orient": "horizontal", "size": 5, "thickness": 1.6, "opacity": 1, "xOffset": {"expr": "datum.g=='b'?-3.5:3.5"}}, "encoding": {"x": {"field": "t", "type": "quantitative"}, "y": {"field": "med", "type": "quantitative"}, "color": {"condition": {"test": "datum.g=='b'", "value": "#22343c"}, "value": "#5b1f2e"}}},
 {"data": {"name": "out"}, "transform": [{"filter": "datum.p=='C'"}], "mark": {"type": "circle", "size": 20, "xOffset": {"expr": "datum.g=='b'?-3.5:3.5"}}, "encoding": {"x": {"field": "t", "type": "quantitative"}, "y": {"field": "y", "type": "quantitative"}, "color": {"condition": {"test": "datum.g=='b'", "value": "#4f6673"}, "value": "#c06a7e"}, "opacity": {"field": "n", "type": "quantitative", "scale": {"domain": [1, 3], "range": [0.28, 0.9]}, "legend": null}}},
 {"data": {"name": "fit"}, "transform": [{"filter": "datum.p=='C' && datum.g=='p' && isValid(datum.lo)"}], "mark": {"type": "area", "color": "#e8aab8", "opacity": 0.6}, "encoding": {"x": {"field": "t", "type": "quantitative"}, "y": {"field": "lo", "type": "quantitative"}, "y2": {"field": "hi"}}},
 {"data": {"name": "fit"}, "transform": [{"filter": "datum.p=='C' && datum.g=='b' && isValid(datum.lo)"}], "mark": {"type": "area", "color": "#8aa0ae", "opacity": 0.6}, "encoding": {"x": {"field": "t", "type": "quantitative"}, "y": {"field": "lo", "type": "quantitative"}, "y2": {"field": "hi"}}},
 {"data": {"name": "fit"}, "transform": [{"filter": "datum.p=='C' && datum.g=='p'"}], "mark": {"type": "line", "color": "#c4788a", "strokeWidth": 1.6}, "encoding": {"x": {"field": "t", "type": "quantitative"}, "y": {"field": "y", "type": "quantitative"}}},
 {"data": {"name": "fit"}, "transform": [{"filter": "datum.p=='C' && datum.g=='b'"}], "mark": {"type": "line", "color": "#2e4a56", "strokeWidth": 1.8}, "encoding": {"x": {"field": "t", "type": "quantitative"}, "y": {"field": "y", "type": "quantitative"}}},
 {"mark": {"type": "point", "shape": "square", "size": 240, "filled": false, "stroke": "#444", "strokeWidth": 1, "opacity": 1}, "encoding": {"x": {"datum": -32.8}, "y": {"datum": 112.6}}},
 {"mark": {"type": "text", "text": "C", "fontWeight": "bold", "fontSize": 11.5, "align": "center", "baseline": "middle"}, "encoding": {"x": {"datum": -32.8}, "y": {"datum": 112.6}}},
 {"mark": {"type": "text", "text": "Urinary irritation", "fontSize": 12, "align": "left", "baseline": "middle"}, "encoding": {"x": {"datum": -26.9}, "y": {"datum": 112.6}}},
 {"mark": {"type": "text", "text": "Adjusted domain score for", "angle": 270, "fontSize": 11.5, "align": "center", "baseline": "middle"}, "encoding": {"x": {"datum": -33.8}, "y": {"datum": 47.3}}},
 {"mark": {"type": "text", "text": "urinary irritation", "angle": 270, "fontSize": 11.5, "align": "center", "baseline": "middle"}, "encoding": {"x": {"datum": -28.2}, "y": {"datum": 47.3}}},
 {"mark": {"type": "text", "text": "Better", "angle": 270, "fontSize": 11.5, "align": "center", "baseline": "middle"}, "encoding": {"x": {"datum": -20.0}, "y": {"datum": 77.3}}},
 {"mark": {"type": "text", "text": "Worse", "angle": 270, "fontSize": 11.5, "align": "center", "baseline": "middle"}, "encoding": {"x": {"datum": -20.0}, "y": {"datum": 21.6}}},
 {"mark": {"type": "rule", "color": "#333", "strokeWidth": 1}, "encoding": {"x": {"datum": -20.0}, "y": {"datum": 86.7}, "y2": {"datum": 101.6}}},
 {"mark": {"type": "rule", "color": "#333", "strokeWidth": 1}, "encoding": {"x": {"datum": -20.0}, "y": {"datum": 13.2}, "y2": {"datum": -1.8}}},
 {"mark": {"type": "point", "shape": "triangle-up", "size": 20, "filled": true, "color": "#333", "opacity": 1}, "encoding": {"x": {"datum": -20.0}, "y": {"datum": 101.6}}},
 {"mark": {"type": "point", "shape": "triangle-down", "size": 20, "filled": true, "color": "#333", "opacity": 1}, "encoding": {"x": {"datum": -20.0}, "y": {"datum": -1.8}}}
]}
]}
]
}
